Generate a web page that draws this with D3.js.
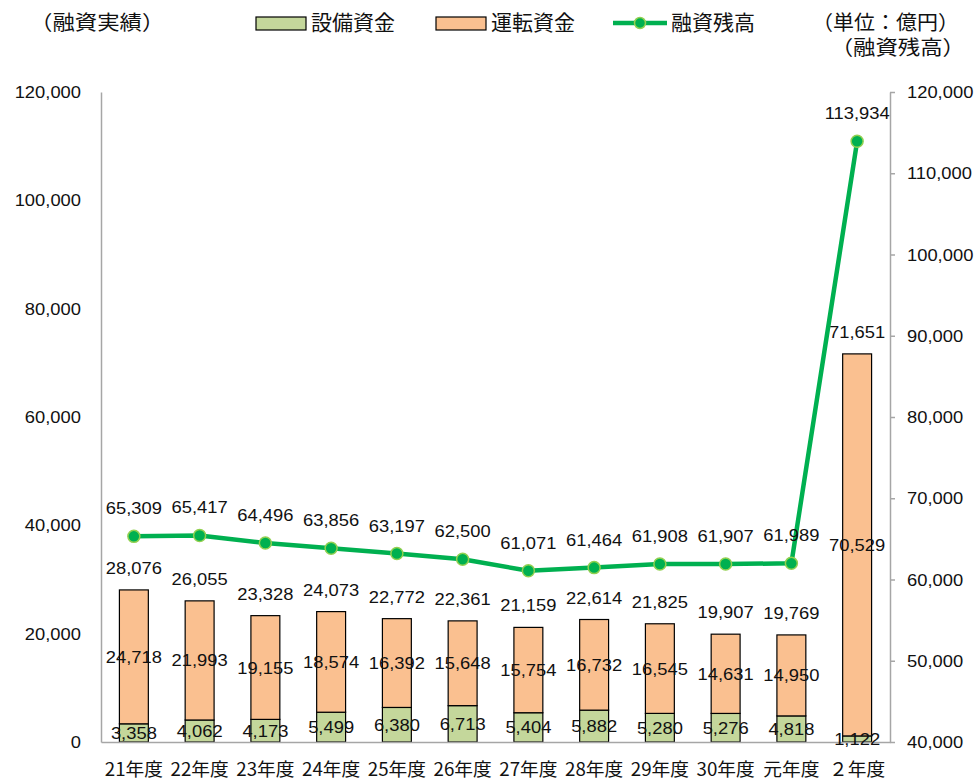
<!DOCTYPE html>
<html>
<head>
<meta charset="utf-8">
<script src="https://cdn.jsdelivr.net/npm/d3@7"></script>
<style>
  html, body { margin: 0; padding: 0; background: #fff; }
  svg { display: block; }
</style>
</head>
<body>
<svg id="chart" width="976" height="781"></svg>
<script>
// 融資実績（設備資金・運転資金）と融資残高の推移
const categories = ["21年度", "22年度", "23年度", "24年度", "25年度", "26年度", "27年度", "28年度", "29年度", "30年度", "元年度", "２年度"];
const equipment = [3358, 4062, 4173, 5499, 6380, 6713, 5404, 5882, 5280, 5276, 4818, 1122];
const working = [24718, 21993, 19155, 18574, 16392, 15648, 15754, 16732, 16545, 14631, 14950, 70529];
const totals = [28076, 26055, 23328, 24073, 22772, 22361, 21159, 22614, 21825, 19907, 19769, 71651];
const balance = [65309, 65417, 64496, 63856, 63197, 62500, 61071, 61464, 61908, 61907, 61989, 113934];
const leftTicks = [0, 20000, 40000, 60000, 80000, 100000, 120000];
const rightTicks = [40000, 50000, 60000, 70000, 80000, 90000, 100000, 110000, 120000];

const plot = { left: 101, right: 890, top: 92, bottom: 742 };

const numFont = "'Liberation Sans', Arial, sans-serif";
const jpFont = "'Noto Sans CJK JP', 'Noto Sans', sans-serif";
const textColor = "#111";
const fmt = d3.format(",");

const svg = d3.select("#chart");

const x = d3.scaleBand().domain(categories).range([plot.left, plot.right]).paddingInner(0.56).paddingOuter(0.28);
const yL = d3.scaleLinear().domain([0, 120000]).range([plot.bottom, plot.top]);
const yR = d3.scaleLinear().domain([40000, 120000]).range([plot.bottom, plot.top]);

// numbers are drawn slightly widened
function num(g, tx, ty, str, anchor) {
  g.append("text")
    .attr("transform", `translate(${tx},${ty}) scale(1.08,1)`)
    .attr("text-anchor", anchor || "middle")
    .attr("font-family", numFont)
    .attr("font-size", 17)
    .attr("fill", textColor)
    .text(str);
}

// stacked bars
const stackData = categories.map((c, i) => ({ cat: c, equipment: equipment[i], working: working[i] }));
const series = d3.stack().keys(["equipment", "working"])(stackData);
const fills = { equipment: "#c4d79b", working: "#fac090" };

const barG = svg.append("g");
series.forEach(s => {
  barG.selectAll(null).data(s).enter().append("rect")
    .attr("x", d => x(d.data.cat))
    .attr("width", x.bandwidth())
    .attr("y", d => yL(d[1]))
    .attr("height", d => yL(d[0]) - yL(d[1]))
    .attr("fill", fills[s.key])
    .attr("stroke", "#000")
    .attr("stroke-width", 1.2);
});

// axes
const axisColor = "#a6a6a6";
const leftAxis = svg.append("g").attr("transform", `translate(${plot.left},0)`)
  .call(d3.axisLeft(yL).tickValues(leftTicks).tickSize(0).tickFormat(fmt));
leftAxis.select(".domain").attr("stroke", axisColor).attr("stroke-width", 1.5);
leftAxis.selectAll("text").remove();
leftTicks.forEach(v => num(svg, plot.left - 20, yL(v) + 6, fmt(v), "end"));

const rightAxis = svg.append("g").attr("transform", `translate(${plot.right},0)`)
  .call(d3.axisRight(yR).tickValues(rightTicks).tickSizeInner(5).tickSizeOuter(0).tickFormat(fmt));
rightAxis.select(".domain").attr("stroke", axisColor).attr("stroke-width", 1.5);
rightAxis.selectAll(".tick line").attr("stroke", axisColor).attr("stroke-width", 1.5);
rightAxis.selectAll("text").remove();
rightTicks.forEach(v => num(svg, plot.right + 17, yR(v) + 6, fmt(v), "start"));

const bottomAxis = svg.append("g").attr("transform", `translate(0,${plot.bottom})`)
  .call(d3.axisBottom(x).tickSize(0));
bottomAxis.select(".domain").attr("stroke", axisColor).attr("stroke-width", 1.5);
bottomAxis.selectAll("text").remove();
categories.forEach(c => {
  svg.append("text")
    .attr("transform", `translate(${x(c) + x.bandwidth() / 2},776) scale(1.04,1)`)
    .attr("text-anchor", "middle")
    .attr("font-family", jpFont)
    .attr("font-size", 18)
    .attr("fill", textColor)
    .text(c);
});

// segment labels
const cx = c => x(c) + x.bandwidth() / 2;
series.forEach(s => {
  s.forEach(d => {
    const yc = (yL(d[0]) + yL(d[1])) / 2;
    num(svg, cx(d.data.cat), yc + 6, fmt(d[1] - d[0]));
  });
});
// totals above bars
categories.forEach((c, i) => {
  num(svg, cx(c), yL(equipment[i] + working[i]) - 16, fmt(totals[i]));
});

// balance line
const lineColor = "#00b050";
const line = d3.line().x((d, i) => cx(categories[i])).y(d => yR(d));
svg.append("path").datum(balance)
  .attr("d", line)
  .attr("fill", "none")
  .attr("stroke", lineColor)
  .attr("stroke-width", 4.5)
  .attr("stroke-linejoin", "round");
svg.selectAll(null).data(balance).enter().append("circle")
  .attr("cx", (d, i) => cx(categories[i]))
  .attr("cy", d => yR(d))
  .attr("r", 6)
  .attr("fill", lineColor)
  .attr("stroke", "#92d050")
  .attr("stroke-width", 1.5);
balance.forEach((v, i) => {
  num(svg, cx(categories[i]), yR(v) - 22, fmt(v));
});

// titles and legend text
function jp(tx, ty, str, anchor, size, sx) {
  svg.append("text")
    .attr("transform", `translate(${tx},${ty}) scale(${sx || 1},1)`)
    .attr("text-anchor", anchor || "start")
    .attr("font-family", jpFont)
    .attr("font-size", size || 20)
    .attr("fill", textColor)
    .text(str);
}
jp(30, 30, "（融資実績）", "start", 20, 1.12);
jp(959, 30, "（単位：億円）", "end", 20, 1.05);
jp(965, 55, "（融資残高）", "end", 20, 1.12);

// legend
const lg = svg.append("g");
lg.append("rect").attr("x", 256).attr("y", 17).attr("width", 50).attr("height", 13)
  .attr("fill", fills.equipment).attr("stroke", "#000").attr("stroke-width", 1.2);
jp(311, 30, "設備資金", "start", 21);
lg.append("rect").attr("x", 436).attr("y", 17).attr("width", 50).attr("height", 13)
  .attr("fill", fills.working).attr("stroke", "#000").attr("stroke-width", 1.2);
jp(491, 30, "運転資金", "start", 21);
lg.append("line").attr("x1", 613).attr("x2", 667).attr("y1", 23).attr("y2", 23)
  .attr("stroke", lineColor).attr("stroke-width", 4.5);
lg.append("circle").attr("cx", 640).attr("cy", 23).attr("r", 5.5)
  .attr("fill", lineColor).attr("stroke", "#92d050").attr("stroke-width", 1.5);
jp(671, 30, "融資残高", "start", 21);
</script>
</body>
</html>
